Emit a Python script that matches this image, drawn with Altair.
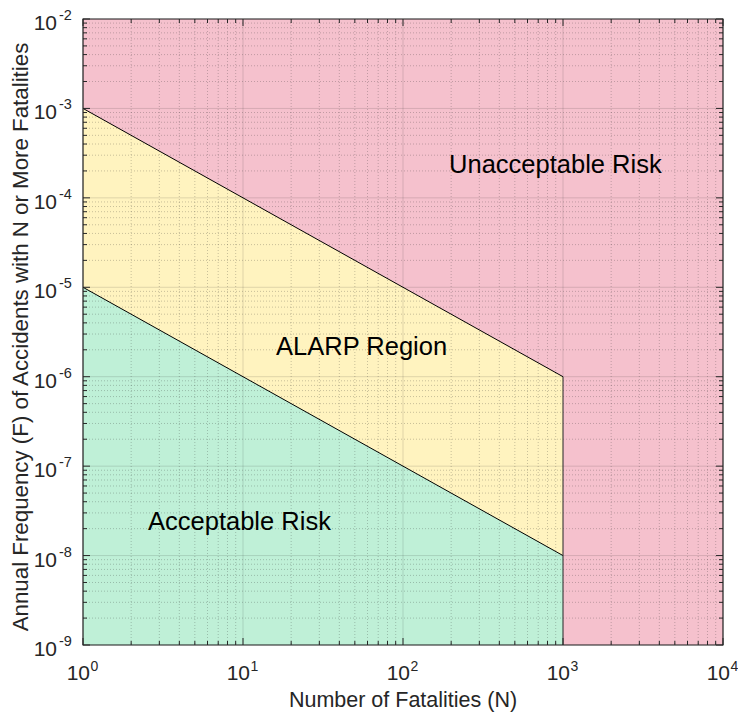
import altair as alt
import pandas as pd

# ---- data ----
n_bounds = [1, 1000]
upper_line = [1e-3, 1e-6]      # ALARP upper bound F = 1e-3 / N
lower_line = [1e-5, 1e-8]      # ALARP lower bound F = 1e-5 / N
f_floor = 1e-9
x_domain = [1, 1e4]
y_domain = [1e-9, 1e-2]
x_decades = [0, 1, 2, 3, 4]
y_decades = [-9, -8, -7, -6, -5, -4, -3, -2]
minor_mult = [2, 3, 4, 5, 6, 7, 8, 9]
region_labels = ["Unacceptable Risk", "ALARP Region", "Acceptable Risk"]
region_n = [194, 16.1, 2.55]
region_f = [1.9e-4, 1.75e-6, 1.93e-8]
x_title = "Number of Fatalities (N)"
y_title = "Annual Frequency (F) of Accidents with N or More Fatalities"

W, H = 640, 626
FONT = "Liberation Sans"
PINK, YELLOW, GREEN = "#F5C1CD", "#FFF3BF", "#BFF0D7"
AXC = "#262626"

xs = alt.Scale(type="log", domain=x_domain, nice=False)
ys = alt.Scale(type="log", domain=y_domain, nice=False)

x_major = [10.0 ** d for d in x_decades]
y_major = [10.0 ** d for d in y_decades]
x_minor = [m * 10.0 ** d for d in x_decades[:-1] for m in minor_mult]
y_minor = [m * 10.0 ** d for d in y_decades[:-1] for m in minor_mult]

# background (unacceptable)
bg = alt.Chart(pd.DataFrame({"x": [x_domain[0]], "x2": [x_domain[1]],
                             "y": [y_domain[0]], "y2": [y_domain[1]]})).mark_rect(
    fill=PINK).encode(
    x=alt.X("x:Q", scale=xs, axis=None), x2="x2:Q",
    y=alt.Y("y:Q", scale=ys, axis=None), y2="y2:Q")

reg = pd.DataFrame({"N": n_bounds, "up": upper_line, "lo": lower_line,
                    "fl": [f_floor] * len(n_bounds)})
yellow = alt.Chart(reg).mark_area(color=YELLOW, opacity=1).encode(
    x=alt.X("N:Q", scale=xs, axis=None),
    y=alt.Y("up:Q", scale=ys, axis=None), y2="fl:Q")
green = alt.Chart(reg).mark_area(color=GREEN, opacity=1).encode(
    x=alt.X("N:Q", scale=xs, axis=None),
    y=alt.Y("lo:Q", scale=ys, axis=None), y2="fl:Q")

# grids
gx_maj = alt.Chart(pd.DataFrame({"v": x_major})).mark_rule(
    color=AXC, opacity=0.15, strokeWidth=1).encode(
    x=alt.X("v:Q", scale=xs, axis=None), y=alt.value(0), y2=alt.value(H))
gx_min = alt.Chart(pd.DataFrame({"v": x_minor})).mark_rule(
    color=AXC, opacity=0.25, strokeWidth=1, strokeDash=[1, 2]).encode(
    x=alt.X("v:Q", scale=xs, axis=None), y=alt.value(0), y2=alt.value(H))
gy_maj = alt.Chart(pd.DataFrame({"v": y_major})).mark_rule(
    color=AXC, opacity=0.15, strokeWidth=1).encode(
    y=alt.Y("v:Q", scale=ys, axis=None), x=alt.value(0), x2=alt.value(W))
gy_min = alt.Chart(pd.DataFrame({"v": y_minor})).mark_rule(
    color=AXC, opacity=0.25, strokeWidth=1, strokeDash=[1, 2]).encode(
    y=alt.Y("v:Q", scale=ys, axis=None), x=alt.value(0), x2=alt.value(W))

# boundary lines
lines_df = pd.DataFrame({
    "N": n_bounds + n_bounds,
    "F": upper_line + lower_line,
    "s": ["upper"] * 2 + ["lower"] * 2})
lines = alt.Chart(lines_df).mark_line(color="black", strokeWidth=1).encode(
    x=alt.X("N:Q", scale=xs, axis=None),
    y=alt.Y("F:Q", scale=ys, axis=None), detail="s:N")
vline = alt.Chart(pd.DataFrame({"N": [n_bounds[1]], "a": [f_floor], "b": [upper_line[1]]})).mark_rule(
    color="#333333", strokeWidth=1).encode(
    x=alt.X("N:Q", scale=xs, axis=None),
    y=alt.Y("a:Q", scale=ys, axis=None), y2="b:Q")

# frame
frame = alt.Chart(pd.DataFrame({"d": [0]})).mark_rect(
    fill=None, stroke=AXC, strokeWidth=1.2).encode(
    x=alt.value(0), x2=alt.value(W), y=alt.value(0), y2=alt.value(H))

# ticks (inside, all four sides)
def xticks(vals, length):
    df = pd.DataFrame({"v": vals})
    bot = alt.Chart(df).mark_rule(color=AXC, strokeWidth=1).encode(
        x=alt.X("v:Q", scale=xs, axis=None), y=alt.value(H), y2=alt.value(H - length))
    top = alt.Chart(df).mark_rule(color=AXC, strokeWidth=1).encode(
        x=alt.X("v:Q", scale=xs, axis=None), y=alt.value(0), y2=alt.value(length))
    return [bot, top]

def yticks(vals, length):
    df = pd.DataFrame({"v": vals})
    lef = alt.Chart(df).mark_rule(color=AXC, strokeWidth=1).encode(
        y=alt.Y("v:Q", scale=ys, axis=None), x=alt.value(0), x2=alt.value(length))
    rig = alt.Chart(df).mark_rule(color=AXC, strokeWidth=1).encode(
        y=alt.Y("v:Q", scale=ys, axis=None), x=alt.value(W), x2=alt.value(W - length))
    return [lef, rig]

tick_layers = xticks(x_major, 7) + xticks(x_minor, 4) + yticks(y_major, 7) + yticks(y_minor, 4)

# tick labels 10^k
xl = pd.DataFrame({"v": x_major, "e": [str(d) for d in x_decades]})
xl_base = alt.Chart(xl).mark_text(text="10", align="right", baseline="alphabetic",
                                  dx=7, font=FONT, fontSize=21, color=AXC).encode(
    x=alt.X("v:Q", scale=xs, axis=None), y=alt.value(H + 35))
xl_exp = alt.Chart(xl).mark_text(align="left", baseline="alphabetic",
                                 dx=7.5, font=FONT, fontSize=14, color=AXC).encode(
    x=alt.X("v:Q", scale=xs, axis=None), y=alt.value(H + 26), text="e:N")

yl = pd.DataFrame({"v": y_major, "e": [str(d) for d in y_decades]})
yl_base = alt.Chart(yl).mark_text(text="10", align="right", baseline="alphabetic",
                                  dy=11, font=FONT, fontSize=21, color=AXC).encode(
    y=alt.Y("v:Q", scale=ys, axis=None), x=alt.value(-26))
yl_exp = alt.Chart(yl).mark_text(align="left", baseline="alphabetic",
                                 dy=1, font=FONT, fontSize=14.5, color=AXC).encode(
    y=alt.Y("v:Q", scale=ys, axis=None), x=alt.value(-24), text="e:N")

# region annotations
ann = alt.Chart(pd.DataFrame({"t": region_labels, "N": region_n, "F": region_f})).mark_text(
    align="left", baseline="alphabetic", font=FONT, fontSize=25.5, color="black").encode(
    x=alt.X("N:Q", scale=xs, axis=None), y=alt.Y("F:Q", scale=ys, axis=None), text="t:N")

# axis titles
xt = alt.Chart(pd.DataFrame({"t": [x_title]})).mark_text(
    align="center", baseline="alphabetic", font=FONT, fontSize=21.5, color=AXC).encode(
    x=alt.value(W / 2), y=alt.value(H + 62), text="t:N")
yt = alt.Chart(pd.DataFrame({"t": [y_title]})).mark_text(
    align="center", baseline="alphabetic", angle=270, font=FONT, fontSize=22.3, color=AXC).encode(
    x=alt.value(-55), y=alt.value(318), text="t:N")

chart = alt.layer(
    bg, yellow, green, gx_maj, gx_min, gy_maj, gy_min, lines, vline, frame,
    *tick_layers, xl_base, xl_exp, yl_base, yl_exp, ann, xt, yt
).properties(
    width=W, height=H,
    autosize=alt.AutoSizeParams(type="none"),
    padding={"left": 83, "top": 19, "right": 15, "bottom": 70},
).configure_view(stroke=None)

chart.save("out.html", embed_options={"renderer": "svg", "actions": False})
